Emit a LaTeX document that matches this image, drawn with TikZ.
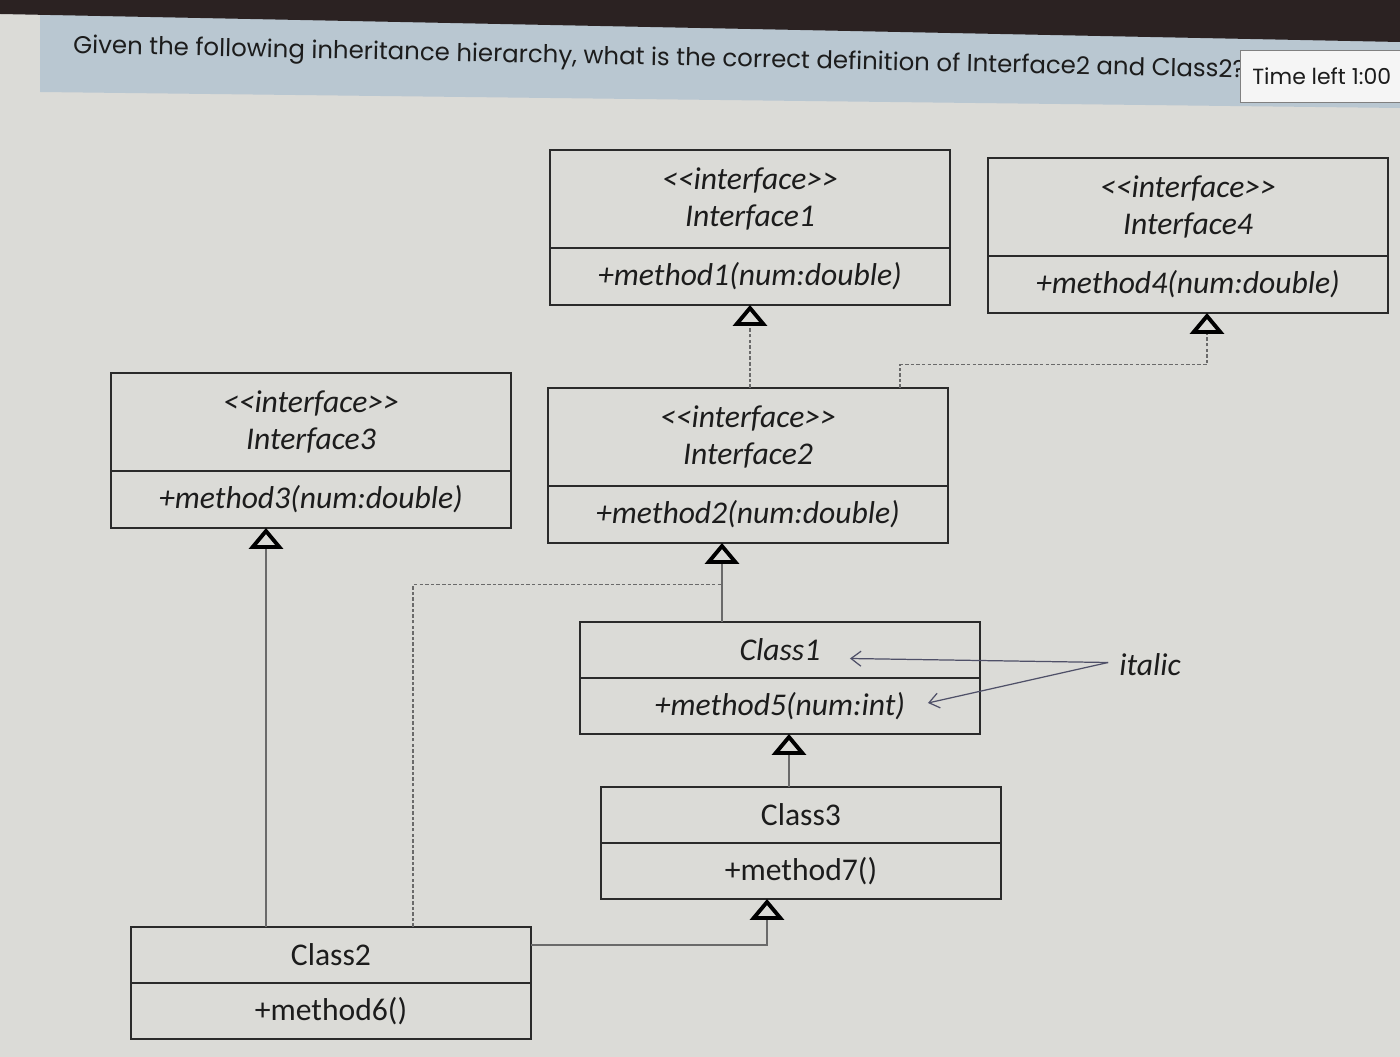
\documentclass[tikz,border=0pt]{standalone}
\usepackage{fontspec}
\usepackage{xcolor}
\usetikzlibrary{positioning}
\usetikzlibrary{arrows.meta}
\newfontfamily\umlfont{Carlito}
\newfontfamily\titlefont{Poppins}
\definecolor{pagegray}{HTML}{DBDBD7}
\definecolor{headerblue}{HTML}{B9C7D1}
\definecolor{bezel}{HTML}{2B2222}
\definecolor{boxline}{HTML}{2A2A2A}
\definecolor{linegray}{HTML}{6A6A6A}
\definecolor{notecolor}{HTML}{4F5068}
\definecolor{inktext}{HTML}{1C1C1C}
\newcommand{\stereo}[1]{<\kern0pt<#1>\kern0pt>}

\begin{document}
\begin{tikzpicture}[x=0.02cm, y=-0.02cm,
    umlbox/.style={draw=boxline, line width=1.2pt, outer sep=0pt, minimum width=8cm, align=center, text=inktext, font=\umlfont\fontsize{18}{21}\selectfont},
    ihead/.style={umlbox, minimum height=1.96cm, font=\umlfont\fontsize{18}{21}\selectfont\itshape},
    ibody/.style={umlbox, minimum height=1.14cm, font=\umlfont\fontsize{18}{21}\selectfont\itshape},
    chead/.style={umlbox, minimum height=1.12cm},
    cbody/.style={umlbox, minimum height=1.12cm},
    abstract/.style={font=\umlfont\fontsize{18}{21}\selectfont\itshape},
    realline/.style={draw=linegray, line width=0.6pt, dash pattern=on 2pt off 1.2pt},
    realize/.style={realline, -{Triangle[open, length=0.42cm, width=0.68cm, line width=2.2pt, color=black]}},
    inherit/.style={draw=linegray, line width=0.6pt, -{Triangle[open, length=0.42cm, width=0.68cm, line width=2.2pt, color=black]}},
    note/.style={draw=notecolor, line width=0.7pt, -{Straight Barb[length=0.2cm, width=0.3cm]}}]

    % Screen
    \fill[pagegray] (0,0) rectangle (1400,1057);
    \fill[headerblue] (40,14) -- (1400,40) -- (1400,108) -- (40,92) -- cycle;
    \fill[bezel] (0,0) -- (1400,0) -- (1400,42) -- (0,14) -- cycle;
    \useasboundingbox (0,0) rectangle (1400,1057);

    % Question
    \node[anchor=west, rotate=-1.2, inner sep=0pt, text=inktext, font=\titlefont\fontsize{13.9}{16}\selectfont] (question) at (73,47)
        {Given the following inheritance hierarchy, what is the correct definition of Interface2 and Class2?};
    \node[draw=gray, fill=white!92!gray, anchor=west, minimum height=1.04cm, inner xsep=0.24cm, text=inktext, font=\titlefont\fontsize{12.5}{15}\selectfont] (timer) at (1240,76) {Time left 1:00};

    % Interfaces
    \node[ihead] (i1head) at (750,199) {\stereo{interface}\\Interface1};
    \node[ibody, below=0pt of i1head] (i1body) {+method1(num:double)};
    \node[ihead] (i4head) at (1188,207) {\stereo{interface}\\Interface4};
    \node[ibody, below=0pt of i4head] (i4body) {+method4(num:double)};
    \node[ihead] (i3head) at (311,422) {\stereo{interface}\\Interface3};
    \node[ibody, below=0pt of i3head] (i3body) {+method3(num:double)};
    \node[ihead] (i2head) at (748,437) {\stereo{interface}\\Interface2};
    \node[ibody, below=0pt of i2head] (i2body) {+method2(num:double)};

    % Classes
    \node[chead, abstract] (c1head) at (780,650) {Class1};
    \node[cbody, abstract, below=0pt of c1head] (c1body) {+method5(num:int)};
    \node[chead] (c3head) at (801,815) {Class3};
    \node[cbody, below=0pt of c3head] (c3body) {+method7()};
    \node[chead] (c2head) at (331,955) {Class2};
    \node[cbody, below=0pt of c2head] (c2body) {+method6()};

    % Connections
    \draw[realize] (i1body.south |- i2head.north) -- (i1body.south);
    \draw[realize] ([xshift=3.04cm]i2head.north) |- ([xshift=0.38cm,yshift=-1.04cm]i4body.south) -- ([xshift=0.38cm]i4body.south);
    \draw[inherit] ([xshift=-0.52cm]i2body.south |- c1head.north) -- ([xshift=-0.52cm]i2body.south);
    \draw[realline] ([xshift=1.64cm]c2head.north) |- ([xshift=-0.52cm,yshift=-0.84cm]i2body.south);
    \draw[inherit] ([xshift=-0.9cm]i3body.south |- c2head.north) -- ([xshift=-0.9cm]i3body.south);
    \draw[inherit] ([yshift=0.2cm]c2head.east) -| ([xshift=-0.68cm]c3body.south);
    \draw[inherit] ([xshift=0.18cm]c1body.south |- c3head.north) -- ([xshift=0.18cm]c1body.south);

    % Note
    \node[text=inktext, font=\umlfont\fontsize{18}{21}\selectfont\itshape] (italic) at (1150,665) {italic};
    \coordinate (noteroot) at ([xshift=-0.1cm,yshift=0.05cm]italic.west);
    \draw[note] (noteroot) -- ([xshift=1.4cm,yshift=-0.17cm]c1head.center);
    \draw[note] (noteroot) -- ([xshift=2.96cm,yshift=0.06cm]c1body.center);
\end{tikzpicture}
\end{document}
